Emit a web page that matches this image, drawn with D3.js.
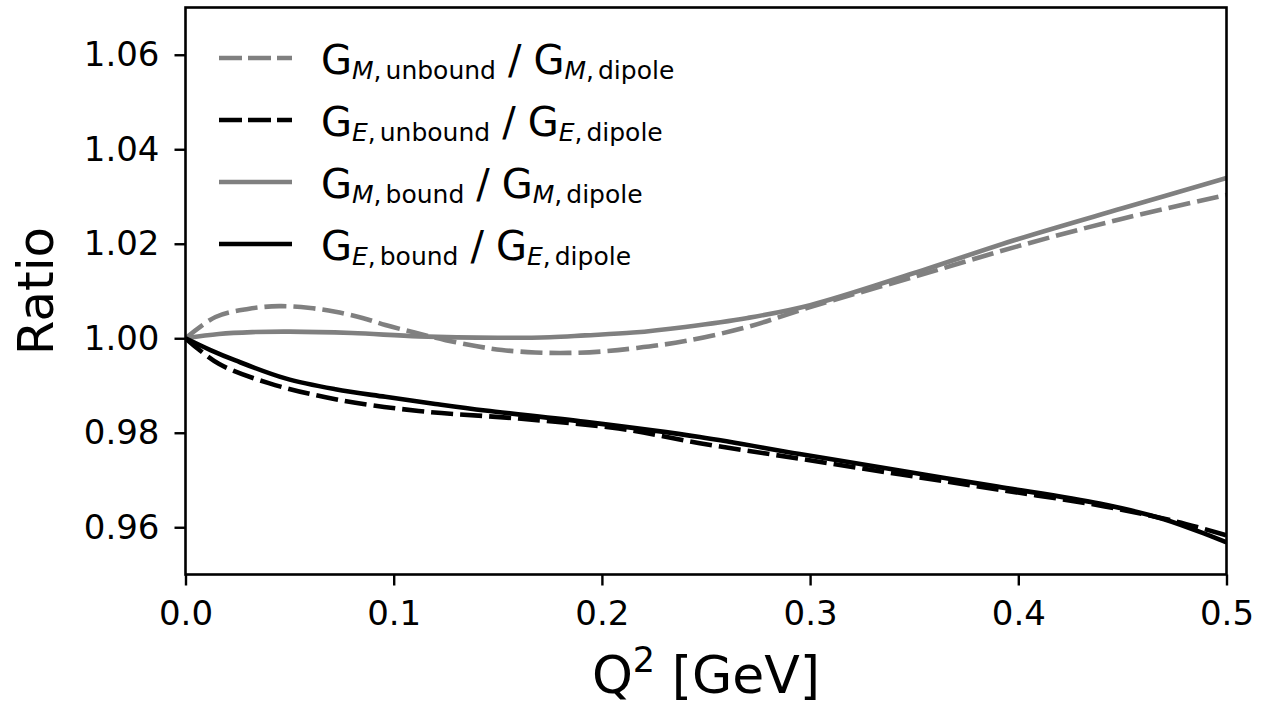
<!DOCTYPE html>
<html>
<head>
<meta charset="utf-8">
<script src="https://cdn.jsdelivr.net/npm/d3@7"></script>
<style>
  html, body { margin: 0; padding: 0; background: #fff; }
  svg { display: block; font-family: "DejaVu Sans", sans-serif; }
</style>
</head>
<body>
<svg id="chart" width="1262" height="701"></svg>
<script>
// Form-factor ratios versus momentum transfer Q^2 (GeV)
const gmUnbound = [
  [0, 1.0000], [0.0144, 1.0045], [0.03, 1.0062], [0.045, 1.0068], [0.06, 1.0064],
  [0.072, 1.0056], [0.085, 1.0043], [0.096, 1.0028], [0.11, 1.0012], [0.125, 0.9996],
  [0.14, 0.9983], [0.152, 0.9975], [0.168, 0.9970], [0.184, 0.9969], [0.2, 0.9972],
  [0.216, 0.9979], [0.24, 0.9994], [0.27, 1.0024], [0.3, 1.0066], [0.35, 1.0130],
  [0.4, 1.0195], [0.45, 1.0253], [0.5, 1.0303]
];
const geUnbound = [
  [0, 1.0000], [0.016, 0.9946], [0.04, 0.9905], [0.072, 0.9871], [0.112, 0.9846],
  [0.16, 0.9830], [0.208, 0.9809], [0.247, 0.9778], [0.295, 0.9745], [0.343, 0.9712],
  [0.39, 0.9680], [0.439, 0.9646], [0.476, 0.9612], [0.5, 0.9583]
];
const gmBound = [
  [0, 1.0000], [0.016, 1.0009], [0.032, 1.0013], [0.05, 1.0014], [0.08, 1.0011],
  [0.112, 1.0004], [0.15, 1.0001], [0.175, 1.0002], [0.192, 1.0006], [0.215, 1.0012],
  [0.24, 1.0024], [0.27, 1.0043], [0.3, 1.0070], [0.35, 1.0138], [0.4, 1.0210],
  [0.45, 1.0275], [0.5, 1.0339]
];
const geBound = [
  [0, 1.0000], [0.012, 0.9975], [0.024, 0.9953], [0.048, 0.9915], [0.072, 0.9892],
  [0.096, 0.9876], [0.12, 0.9861], [0.144, 0.9847], [0.192, 0.9823], [0.247, 0.9791],
  [0.295, 0.9755], [0.343, 0.9720], [0.39, 0.9686], [0.439, 0.9650], [0.47, 0.9617],
  [0.5, 0.9568]
];

const xTicks = [0, 0.1, 0.2, 0.3, 0.4, 0.5];
const yTicks = [0.96, 0.98, 1.00, 1.02, 1.04, 1.06];

// legend entries: form factor symbol and nucleon state
const legendItems = [
  { sym: "M", state: "unbound" },
  { sym: "E", state: "unbound" },
  { sym: "M", state: "bound" },
  { sym: "E", state: "bound" }
];

const series = [
  { data: gmUnbound, color: "#808080", dash: "22,7" },
  { data: geUnbound, color: "#000000", dash: "22,7" },
  { data: gmBound,   color: "#808080", dash: null },
  { data: geBound,   color: "#000000", dash: null }
];

const svg = d3.select("#chart");
const plotLeft = 185.5, plotRight = 1226.5, plotTop = 7.5, plotBottom = 574.5;

const x = d3.scaleLinear().domain([0, 0.5]).range([plotLeft, plotRight]);
const y = d3.scaleLinear().domain([0.95, 1.07]).range([plotBottom, plotTop]);

svg.append("defs").append("clipPath").attr("id", "plotClip")
  .append("rect").attr("x", plotLeft).attr("y", plotTop)
  .attr("width", plotRight - plotLeft).attr("height", plotBottom - plotTop);

const line = d3.line()
  .x(d => x(d[0])).y(d => y(d[1]))
  .curve(d3.curveCatmullRom.alpha(0.5));

const plot = svg.append("g").attr("clip-path", "url(#plotClip)");
series.forEach(s => {
  plot.append("path")
    .attr("d", line(s.data))
    .attr("fill", "none")
    .attr("stroke", s.color)
    .attr("stroke-width", 4.6)
    .attr("stroke-dasharray", s.dash)
    .attr("stroke-linecap", "butt")
    .attr("stroke-linejoin", "round");
});

// axes
const xAxis = d3.axisBottom(x).tickValues(xTicks).tickFormat(d3.format(".1f"))
  .tickSizeInner(11).tickSizeOuter(0).tickPadding(15);
const yAxis = d3.axisLeft(y).tickValues(yTicks).tickFormat(d3.format(".2f"))
  .tickSizeInner(11).tickSizeOuter(0).tickPadding(15);

const gx = svg.append("g").attr("transform", `translate(0,${plotBottom})`).call(xAxis);
const gy = svg.append("g").attr("transform", `translate(${plotLeft},0)`).call(yAxis);
[gx, gy].forEach(g => {
  g.select(".domain").remove();
  g.selectAll(".tick line").attr("stroke", "#000").attr("stroke-width", 2.4);
  g.selectAll(".tick text").attr("fill", "#000")
    .style("font-family", "DejaVu Sans").style("font-size", "34px");
});
gx.selectAll(".tick text").attr("dy", "0.71em");

// frame
svg.append("rect")
  .attr("x", plotLeft).attr("y", plotTop)
  .attr("width", plotRight - plotLeft).attr("height", plotBottom - plotTop)
  .attr("fill", "none").attr("stroke", "#000").attr("stroke-width", 2.6);

// axis labels
const xl = svg.append("text")
  .attr("x", (plotLeft + plotRight) / 2).attr("y", 693)
  .attr("text-anchor", "middle").style("font-size", "52px");
xl.append("tspan").text("Q");
xl.append("tspan").attr("dy", -21).style("font-size", "35px").text("2");
xl.append("tspan").attr("dy", 21).text(" [GeV]");

svg.append("text")
  .attr("transform", `translate(53,${(plotTop + plotBottom) / 2}) rotate(-90)`)
  .attr("text-anchor", "middle").style("font-size", "50px")
  .text("Ratio");

// legend
const lg = svg.append("g");
legendItems.forEach((item, i) => {
  const ly = 58 + i * 62;
  const s = series[i];
  lg.append("line")
    .attr("x1", 219).attr("x2", 292).attr("y1", ly).attr("y2", ly)
    .attr("stroke", s.color).attr("stroke-width", 4.6)
    .attr("stroke-dasharray", s.dash ? "23,6" : null);

  const t = lg.append("text").attr("x", 321).attr("y", ly + 16)
    .style("font-size", "40px").attr("fill", "#000");
  t.append("tspan").text("G");
  t.append("tspan").attr("dy", 5).style("font-size", "25px")
    .style("font-style", "italic").text(item.sym);
  t.append("tspan").style("font-size", "25px").text(",");
  t.append("tspan").attr("dx", 4).style("font-size", "25px").text(item.state);
  t.append("tspan").attr("dy", -5).attr("dx", 12).text("/");
  t.append("tspan").attr("dx", 12).text("G");
  t.append("tspan").attr("dy", 5).style("font-size", "25px")
    .style("font-style", "italic").text(item.sym);
  t.append("tspan").style("font-size", "25px").text(",");
  t.append("tspan").attr("dx", 4).style("font-size", "25px").text("dipole");
});
</script>
</body>
</html>
